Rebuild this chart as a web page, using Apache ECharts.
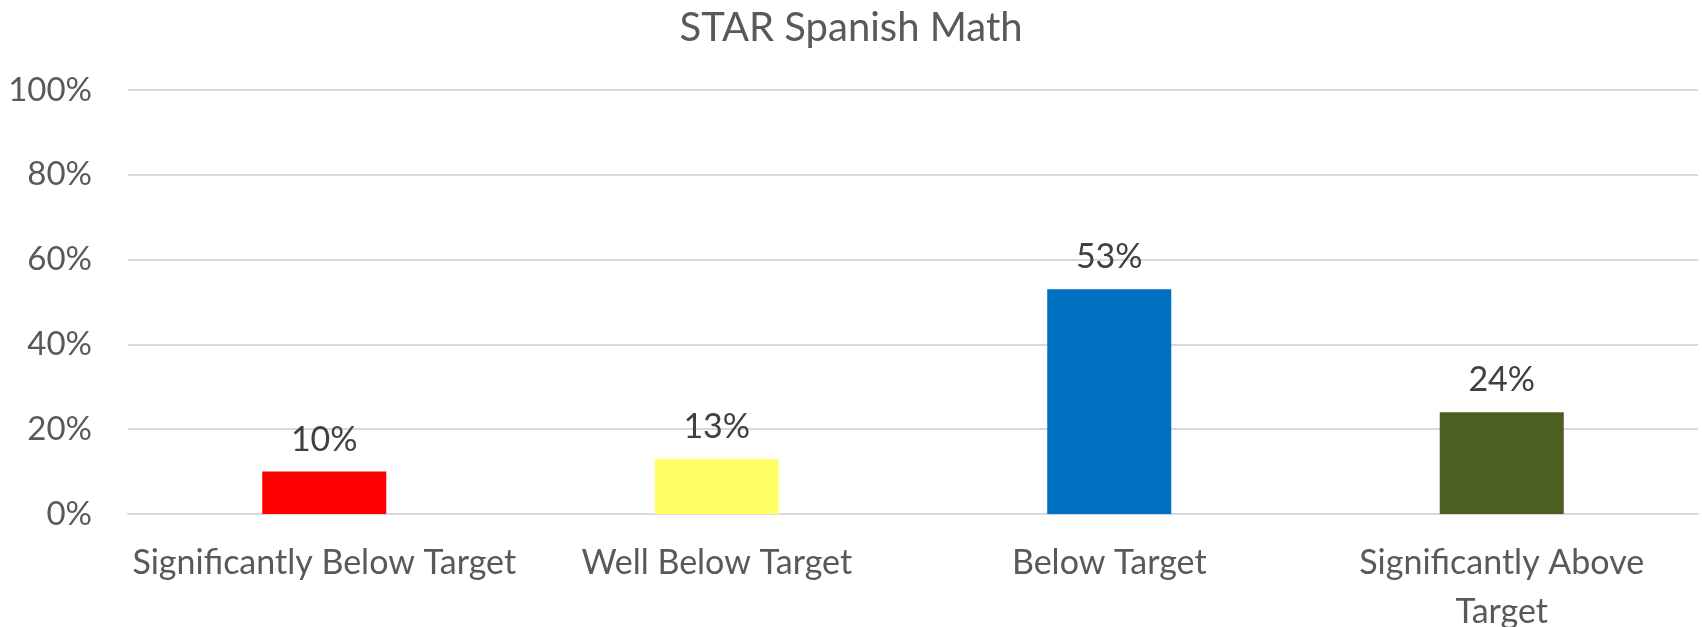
<!DOCTYPE html>
<html>
<head>
<meta charset="utf-8">
<script src="https://cdn.jsdelivr.net/npm/echarts@6/dist/echarts.min.js"></script>
<style>
  html, body { margin: 0; padding: 0; background: #fff; }
  #chart { width: 1702px; height: 627px; }
</style>
</head>
<body>
<div id="chart"></div>
<script>
var chartTitle = 'STAR Spanish Math';
var categories = ['Significantly Below Target', 'Well Below Target', 'Below Target', 'Significantly Above\nTarget'];
var values = [10, 13, 53, 24];
var barColors = ['#ff0000', '#ffff66', '#0070c0', '#4a5f20'];
var yTicks = [0, 20, 40, 60, 80, 100];

var fontName = 'Lato';
var chart = echarts.init(document.getElementById('chart'));

var barData = values.map(function (v, i) {
    return { value: v, itemStyle: { color: barColors[i] } };
});

var option = {
    animation: false,
    title: {
        text: chartTitle,
        left: 'center',
        top: 3,
        textStyle: { fontFamily: fontName, fontSize: 40, fontWeight: 'normal', color: '#595959' }
    },
    grid: { left: 128, right: 4, top: 90, bottom: 113, containLabel: false, outerBoundsMode: 'none' },
    xAxis: {
        type: 'category',
        data: categories,
        axisLine: { show: true, lineStyle: { color: '#d9d9d9', width: 2 } },
        axisTick: { show: false },
        axisLabel: {
            margin: 25,
            fontFamily: fontName, fontSize: 34, color: '#595959', lineHeight: 49,
            interval: 0
        }
    },
    yAxis: {
        type: 'value',
        min: yTicks[0],
        max: yTicks[yTicks.length - 1],
        interval: 20,
        axisLine: { show: false },
        axisTick: { show: false },
        splitLine: { lineStyle: { color: '#d9d9d9', width: 2 } },
        axisLabel: {
            margin: 36,
            fontFamily: fontName, fontSize: 33, color: '#595959',
            formatter: function (v) { return v + '%'; }
        }
    },
    series: [{
        type: 'bar',
        data: barData,
        barWidth: '31.6%',
        label: {
            show: true,
            position: 'top',
            distance: 15,
            fontFamily: fontName, fontSize: 34, color: '#404040',
            formatter: function (p) { return p.value + '%'; }
        }
    }]
};
chart.setOption(option);
</script>
</body>
</html>
